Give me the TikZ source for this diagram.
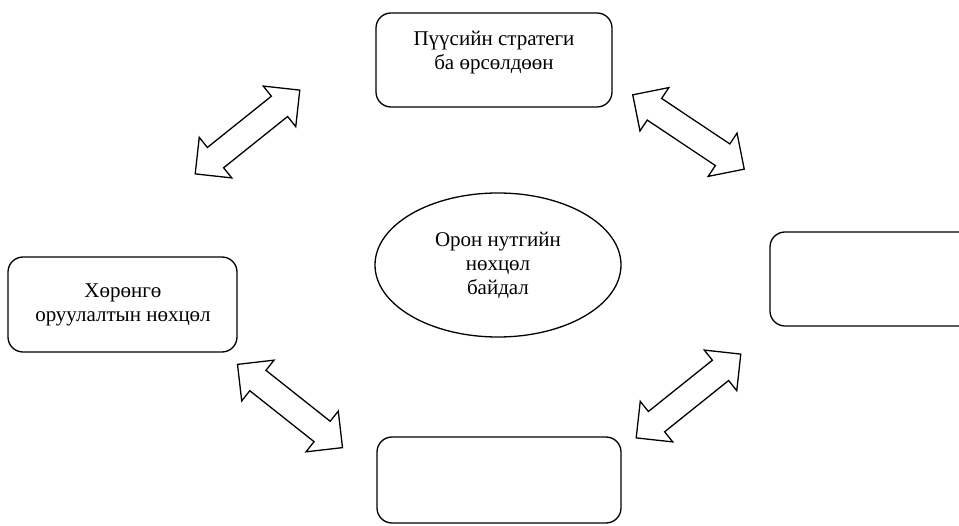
\documentclass[tikz,border=0pt]{standalone}
\usepackage{fontspec}
\setmainfont{Liberation Serif}
\usetikzlibrary{shapes.geometric}
\begin{document}
\begin{tikzpicture}[x=1pt,y=1pt,
  box/.style={draw, line width=1.3pt, rounded corners=15pt, inner sep=0pt, rectangle},
  ell/.style={draw, line width=1.3pt, ellipse, inner sep=0pt},
  txt/.style={align=center, font=\fontsize{21}{24}\selectfont, inner sep=0pt},
  arrowline/.style={draw, line width=1.3pt, fill=white, line join=miter},
  dblarrow/.pic={\path[arrowline] (-67,0) -- (-41,26) -- (-41,13) -- (41,13) -- (41,26)
      -- (67,0) -- (41,-26) -- (41,-13) -- (-41,-13) -- (-41,-26) -- cycle;}]
\useasboundingbox (0,0) rectangle (959,-526);
\clip (0,0) rectangle (959,-526);
% boxes
\node[box, minimum width=236, minimum height=94] (top) at (494,-60) {};
\node[txt] (toptext) at (494,-53) {Пүүсийн стратеги\\ба өрсөлдөөн};
\node[box, minimum width=229, minimum height=95] (left) at (122.5,-304.5) {};
\node[txt] (lefttext) at (123,-305) {Хөрөнгө\\оруулалтын нөхцөл};
\node[box, minimum width=230, minimum height=94] (right) at (885,-279) {};
\node[box, minimum width=244, minimum height=86] (bottom) at (499,-480) {};
\node[ell, txt, minimum width=246, minimum height=144] (mid) at (498,-265) {Орон нутгийн\\нөхцөл\\байдал};
% double block arrows
\coordinate (a1) at (247.5,-132);
\coordinate (a2) at (688.5,-132);
\coordinate (a3) at (290,-406);
\coordinate (a4) at (688.5,-396);
\pic[rotate=38.7] at (a1) {dblarrow};
\pic[rotate=-33.7] at (a2) {dblarrow};
\pic[rotate=-38.4] at (a3) {dblarrow};
\pic[rotate=38.7] at (a4) {dblarrow};
\end{tikzpicture}
\end{document}
